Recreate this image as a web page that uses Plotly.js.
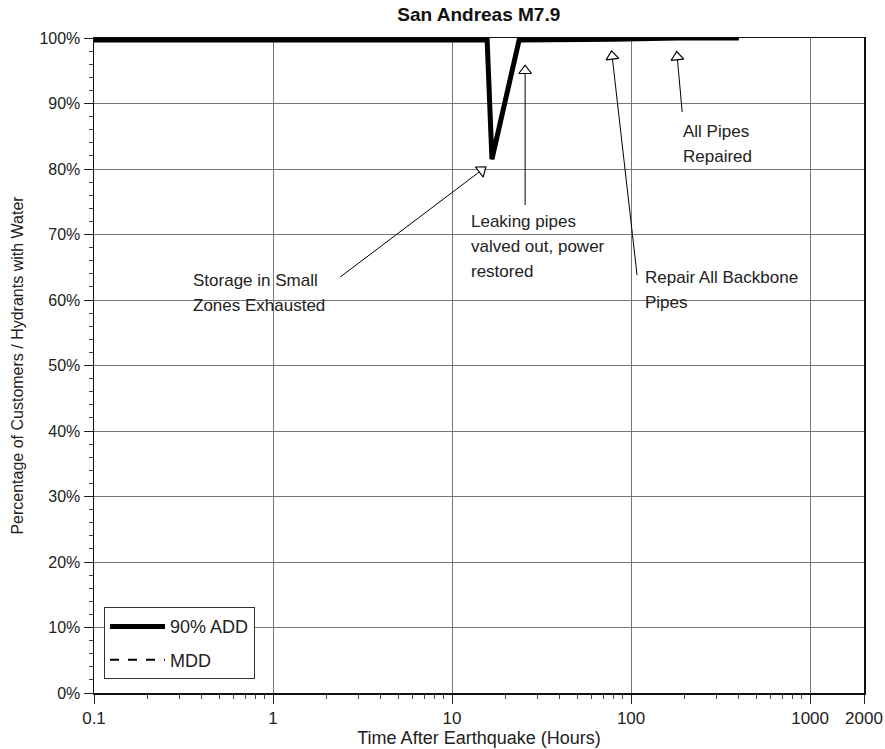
<!DOCTYPE html>
<html><head><meta charset="utf-8">
<script src="https://cdn.plot.ly/plotly-3.0.1.min.js"></script>
<style>html,body{margin:0;padding:0;background:#fff}</style>
</head><body>
<div id="chart" style="width:885px;height:749px"></div>
<script>
// ---- data ----
const hours = [0.1, 15.7, 16.7, 23.7, 80, 180, 400];
const add90 = [99.7, 99.7, 81.5, 99.7, 99.8, 100, 100];
const mddHours = [0.1, 15.7, 16.7, 23.7, 80, 180, 400];
const mdd = [99.7, 99.7, 81.5, 99.7, 99.8, 100, 100];

const xTickVals = [0.1, 1, 10, 100, 1000, 2000];
const xTickText = ['0.1', '1', '10', '100', '1000', '2000'];
const yTickVals = [0, 10, 20, 30, 40, 50, 60, 70, 80, 90, 100];
const yTickText = ['0%', '10%', '20%', '30%', '40%', '50%', '60%', '70%', '80%', '90%', '100%'];

// annotations: text lines, first-line anchor (hours, %), arrow tail and head (hours, %), head angle (deg)
const annoText = [['Storage in Small', 'Zones Exhausted'], ['Leaking pipes', 'valved out, power', 'restored'], ['Repair All Backbone', 'Pipes'], ['All Pipes', 'Repaired']];
const annoTextX = [0.348, 12.4, 116.7, 190];
const annoTextY = [63.05, 72.06, 63.36, 85.8];
const arrowTailX = [2.37, 25.6, 108, 193];
const arrowTailY = [63.5, 74.5, 63.8, 88.7];
const arrowHeadX = [14.6, 25.6, 78.4, 181];
const arrowHeadY = [79.8, 95.0, 97.2, 97.1];
const arrowAngle = [52, 0, -6.5, -5];

const FONT = 'Liberation Sans, Arial, Helvetica, sans-serif';

// minor ticks
const xMinor = [];
[0.1, 1, 10, 100, 1000].forEach(d => { for (let k = 2; k <= 9; k++) { if (d * k <= 2000) xMinor.push(d * k); } });
const yMinor = [];
for (let v = 0; v <= 100; v += 2) yMinor.push(v);

const traces = [
  {x: mddHours, y: mdd, mode: 'lines', name: 'MDD', legendgroup: 'mdd', legendrank: 2, line: {color: 'black', width: 2, dash: 'dash'}},
  {x: hours, y: add90, mode: 'lines', name: '90% ADD', legendgroup: 'add', legendrank: 1, line: {color: 'black', width: 5}}
];
// arrows as lines + open triangle heads
for (let i = 0; i < annoText.length; i++) {
  traces.push({x: [arrowTailX[i], arrowHeadX[i]], y: [arrowTailY[i], arrowHeadY[i]], mode: 'lines',
    line: {color: 'black', width: 1}, showlegend: false, hoverinfo: 'skip'});
  traces.push({x: [arrowHeadX[i]], y: [arrowHeadY[i]], mode: 'markers', showlegend: false, hoverinfo: 'skip',
    marker: {symbol: 'triangle-up', size: 11, color: 'white', angle: arrowAngle[i], line: {color: 'black', width: 1.2}}});
}

const annotations = [];
annoText.forEach((lines, i) => {
  lines.forEach((t, k) => {
    annotations.push({
      text: t, x: Math.log10(annoTextX[i]), y: annoTextY[i], yshift: -25 * k, xref: 'x', yref: 'y',
      xanchor: 'left', yanchor: 'middle', align: 'left', showarrow: false,
      font: {family: FONT, size: 17, color: '#222'}
    });
  });
});

const layout = {
  width: 885, height: 749,
  margin: {l: 94, r: 21, t: 38, b: 56},
  paper_bgcolor: 'white', plot_bgcolor: 'white',
  font: {family: FONT, size: 16, color: '#222'},
  title: {text: '<b>San Andreas M7.9</b>', x: 0.541, xanchor: 'center', y: 0.99, yanchor: 'top',
    font: {family: FONT, size: 19, color: '#111'}},
  showlegend: true,
  legend: {x: 0.013, y: 0.131, xanchor: 'left', yanchor: 'top', bordercolor: '#333', borderwidth: 1,
    bgcolor: 'white', traceorder: 'grouped', tracegroupgap: 7, itemwidth: 55,
    font: {family: FONT, size: 18, color: '#222'}},
  xaxis: {type: 'log', range: [-1, Math.log10(2000)], tickmode: 'array', tickvals: xTickVals, ticktext: xTickText,
    ticks: 'outside', ticklen: 9, tickcolor: '#222', showgrid: true, gridcolor: '#777', gridwidth: 1,
    showline: true, linecolor: '#111', linewidth: 1.5, mirror: true, zeroline: false,
    minor: {tickmode: 'array', tickvals: xMinor, ticks: 'outside', ticklen: 4, tickcolor: '#444', showgrid: false},
    title: {text: 'Time After Earthquake (Hours)', standoff: 4, font: {family: FONT, size: 18, color: '#222'}},
    tickfont: {family: FONT, size: 17, color: '#222'}},
  yaxis: {range: [0, 100], tickmode: 'array', tickvals: yTickVals, ticktext: yTickText,
    ticks: 'outside', ticklen: 9, tickcolor: '#222', showgrid: true, gridcolor: '#777', gridwidth: 1,
    showline: true, linecolor: '#111', linewidth: 1.5, mirror: true, zeroline: false,
    minor: {tickmode: 'array', tickvals: yMinor, ticks: 'outside', ticklen: 4, tickcolor: '#444', showgrid: false},
    title: {text: 'Percentage of Customers / Hydrants with Water', standoff: 12, font: {family: FONT, size: 16, color: '#222'}},
    tickfont: {family: FONT, size: 16, color: '#222'}},
  annotations: annotations
};

Plotly.newPlot('chart', traces, layout, {displayModeBar: false, staticPlot: true});
</script>
</body></html>
